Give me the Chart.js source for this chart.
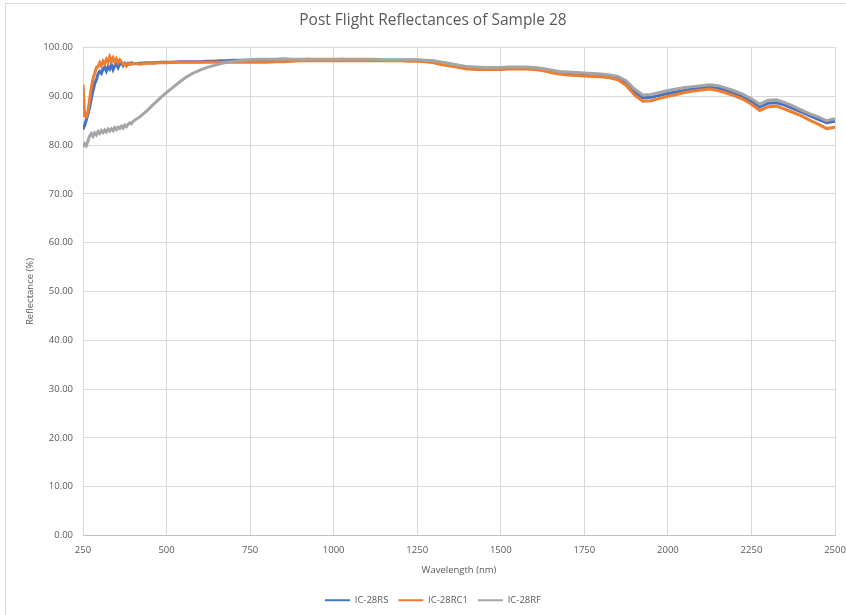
<!DOCTYPE html>
<html>
<head>
<meta charset="utf-8">
<title>Post Flight Reflectances of Sample 28</title>
<script src="https://cdn.jsdelivr.net/npm/chart.js@4/dist/chart.umd.min.js"></script>
<style>
	html, body { margin: 0; padding: 0; background: #fff; }
	.frame { position: absolute; left: 5px; top: 3px; width: 900px; height: 700px; border: 1px solid #d9d9d9; }
	#reflectance { position: absolute; left: 0; top: 0; }
</style>
</head>
<body>
<div class="frame"></div>
<canvas id="reflectance" width="846" height="615"></canvas>
<script>
'use strict';

// Wavelength grid (nm): 5 nm steps through the noisy UV end, coarser after.
const wavelengths = [
	250, 255, 260, 265, 270, 275, 280, 285, 290, 295, 300, 305, 310, 315, 320, 325,
	330, 335, 340, 345, 350, 355, 360, 365, 370, 375, 380, 385, 390, 395, 400,
	420, 440, 460, 480, 500, 520, 540, 560, 580, 600, 620, 640, 660, 680, 700,
	725, 750, 775, 800, 825, 850, 875, 900,
	925, 950, 975, 1000, 1025, 1050, 1075, 1100,
	1125, 1150, 1175, 1200, 1225, 1250, 1275, 1300,
	1325, 1350, 1375, 1400, 1425, 1450, 1475, 1500,
	1525, 1550, 1575, 1600, 1625, 1650, 1675, 1700,
	1725, 1750, 1775, 1800, 1825, 1850, 1875, 1900,
	1925, 1950, 1975, 2000, 2025, 2050, 2075, 2100,
	2125, 2150, 2175, 2200, 2225, 2250, 2275, 2300,
	2325, 2350, 2375, 2400, 2425, 2450, 2475, 2500,
];

const seriesNames = [ 'IC-28RS', 'IC-28RC1', 'IC-28RF' ];

// Reflectance (%) for each sample on the wavelength grid above.
const rsValues = [
	83.2, 84.1, 85.2, 86.4, 87.8, 89.6, 91.2, 92.6, 93.4, 94.6, 95.1, 94.7, 95.6, 96.0, 95.2, 96.1,
	95.6, 96.5, 95.5, 96.3, 96.7, 95.9, 96.6, 96.9, 96.3, 96.8, 96.5, 96.8, 96.6, 96.9, 96.7,
	96.8, 96.9, 96.9, 97.0, 97.0, 97.0, 97.1, 97.1, 97.1, 97.1, 97.2, 97.2, 97.3, 97.3, 97.4,
	97.4, 97.4, 97.5, 97.5, 97.5, 97.6, 97.5, 97.5,
	97.6, 97.5, 97.5, 97.5, 97.6, 97.5, 97.5, 97.5,
	97.5, 97.4, 97.4, 97.4, 97.4, 97.4, 97.3, 97.2,
	96.9, 96.6, 96.3, 96.0, 95.9, 95.8, 95.8, 95.8,
	95.9, 95.9, 95.9, 95.8, 95.6, 95.2, 94.9, 94.8,
	94.7, 94.6, 94.5, 94.4, 94.2, 93.8, 92.8, 90.9,
	89.7, 89.8, 90.2, 90.6, 90.9, 91.2, 91.5, 91.7,
	91.9, 91.7, 91.2, 90.6, 89.9, 89.0, 87.8, 88.6,
	88.7, 88.2, 87.5, 86.8, 86.0, 85.3, 84.6, 84.9,
];

const rc1Values = [
	92.4, 86.0, 85.8, 87.0, 89.5, 91.9, 93.6, 94.7, 95.9, 96.1, 96.9, 96.3, 97.2, 96.7, 97.6, 97.0,
	98.1, 97.2, 97.9, 97.0, 97.7, 96.9, 97.5, 97.1, 96.5, 96.7, 96.2, 96.6, 96.8, 96.6, 96.8,
	96.6, 96.8, 96.8, 96.9, 96.9, 97.0, 97.0, 97.0, 97.0, 97.0, 97.0, 97.0, 97.0, 97.0, 97.0,
	97.0, 97.0, 97.0, 97.0, 97.1, 97.1, 97.2, 97.3,
	97.3, 97.3, 97.3, 97.3, 97.3, 97.3, 97.3, 97.3,
	97.3, 97.3, 97.3, 97.3, 97.2, 97.2, 97.1, 96.9,
	96.5, 96.2, 95.9, 95.6, 95.5, 95.5, 95.5, 95.5,
	95.6, 95.6, 95.6, 95.5, 95.3, 94.9, 94.6, 94.4,
	94.3, 94.2, 94.1, 94.0, 93.8, 93.4, 92.3, 90.3,
	89.0, 89.1, 89.6, 90.0, 90.4, 90.8, 91.1, 91.3,
	91.5, 91.2, 90.7, 90.1, 89.4, 88.4, 87.1, 87.9,
	88.0, 87.4, 86.7, 86.0, 85.1, 84.3, 83.4, 83.7,
];

const rfValues = [
	79.6, 80.3, 79.9, 80.9, 81.9, 82.4, 81.8, 82.5, 82.1, 82.8, 82.4, 83.0, 82.6, 83.1, 82.7, 83.3,
	82.9, 83.4, 83.0, 83.6, 83.2, 83.7, 83.4, 83.9, 83.5, 84.1, 83.8, 84.3, 84.6, 84.4, 84.9,
	85.8, 87.0, 88.3, 89.6, 90.8, 91.9, 93.0, 94.0, 94.8, 95.4, 95.9, 96.3, 96.7, 97.0, 97.2,
	97.4, 97.5, 97.6, 97.6, 97.6, 97.7, 97.6, 97.6,
	97.6, 97.6, 97.6, 97.6, 97.6, 97.6, 97.6, 97.6,
	97.6, 97.5, 97.5, 97.5, 97.5, 97.5, 97.4, 97.3,
	97.0, 96.7, 96.4, 96.1, 96.0, 95.9, 95.9, 95.9,
	96.0, 96.0, 96.0, 95.9, 95.7, 95.4, 95.1, 95.0,
	94.9, 94.8, 94.7, 94.6, 94.4, 94.1, 93.2, 91.5,
	90.3, 90.4, 90.8, 91.2, 91.5, 91.8, 92.0, 92.2,
	92.4, 92.2, 91.7, 91.1, 90.4, 89.5, 88.4, 89.2,
	89.3, 88.7, 88.0, 87.2, 86.4, 85.8, 85.0, 85.4,
];

const seriesColors = [ '#4472c4', '#ed7d31', '#a5a5a5' ];

const xTicks = [ 250, 500, 750, 1000, 1250, 1500, 1750, 2000, 2250, 2500 ];
const yTicks = [ 0, 10, 20, 30, 40, 50, 60, 70, 80, 90, 100 ];

const textGrey = '#595959';
Chart.defaults.font.family = "'Open Sans', 'Liberation Sans', sans-serif";
Chart.defaults.color = textGrey;

const toPoints = ( values ) => values.map( ( v, i ) => ( { x: wavelengths[ i ], y: v } ) );

const datasets = [ rsValues, rc1Values, rfValues ].map( ( values, i ) => ( {
	label: seriesNames[ i ],
	data: toPoints( values ),
	borderColor: seriesColors[ i ],
	backgroundColor: seriesColors[ i ],
	borderWidth: 3,
	pointRadius: 0,
	tension: 0,
	// Later series sit on top, like the spreadsheet it came from.
	order: 2 - i,
} ) );

new Chart( document.getElementById( 'reflectance' ), {
	type: 'line',
	data: { datasets },
	options: {
		responsive: false,
		animation: false,
		// Uneven side padding puts the title a little right of the canvas centre.
		layout: { padding: { left: 31, right: 11, top: 0, bottom: 0 } },
		plugins: {
			title: {
				display: true,
				text: 'Post Flight Reflectances of Sample 28',
				color: textGrey,
				font: { size: 15.5, weight: 'normal' },
				padding: { top: 11, bottom: 18 },
			},
			legend: {
				position: 'bottom',
				labels: {
					color: textGrey,
					font: { size: 9.5 },
					usePointStyle: true,
					pointStyle: 'line',
					pointStyleWidth: 25,
					padding: 10,
					sort: ( a, b ) => a.datasetIndex - b.datasetIndex,
					generateLabels: ( chart ) => Chart.defaults.plugins.legend.labels.generateLabels( chart )
						.map( ( item ) => ( { ...item, lineWidth: 2 } ) ),
				},
			},
			tooltip: { enabled: false },
		},
		scales: {
			x: {
				type: 'linear',
				min: xTicks[ 0 ],
				max: xTicks[ xTicks.length - 1 ],
				afterBuildTicks: ( s ) => { s.ticks = xTicks.map( ( v ) => ( { value: v } ) ); },
				afterFit: ( s ) => {
					s.height = 50;
					s.paddingLeft = 0;
					s.paddingRight = 0;
				},
				ticks: {
					padding: 9,
					font: { size: 9.5 },
					color: textGrey,
					maxRotation: 0,
					callback: ( v ) => String( v ),
				},
				grid: { color: '#d9d9d9', drawTicks: false },
				border: { color: '#bfbfbf' },
				title: {
					display: true,
					text: 'Wavelength (nm)',
					color: textGrey,
					font: { size: 9.5 },
					padding: { top: 4, bottom: 10 },
				},
			},
			y: {
				min: yTicks[ 0 ],
				max: yTicks[ yTicks.length - 1 ],
				afterBuildTicks: ( s ) => { s.ticks = yTicks.map( ( v ) => ( { value: v } ) ); },
				afterFit: ( s ) => { s.width = 52; },
				ticks: {
					padding: 10,
					font: { size: 9.5 },
					color: textGrey,
					callback: ( v ) => Number( v ).toFixed( 2 ),
				},
				grid: { color: '#d9d9d9', drawTicks: false },
				border: { display: false },
				title: {
					display: true,
					text: 'Reflectance (%)',
					color: textGrey,
					font: { size: 9.5 },
					padding: { top: -6, bottom: 0 },
				},
			},
		},
	},
} );
</script>
</body>
</html>
